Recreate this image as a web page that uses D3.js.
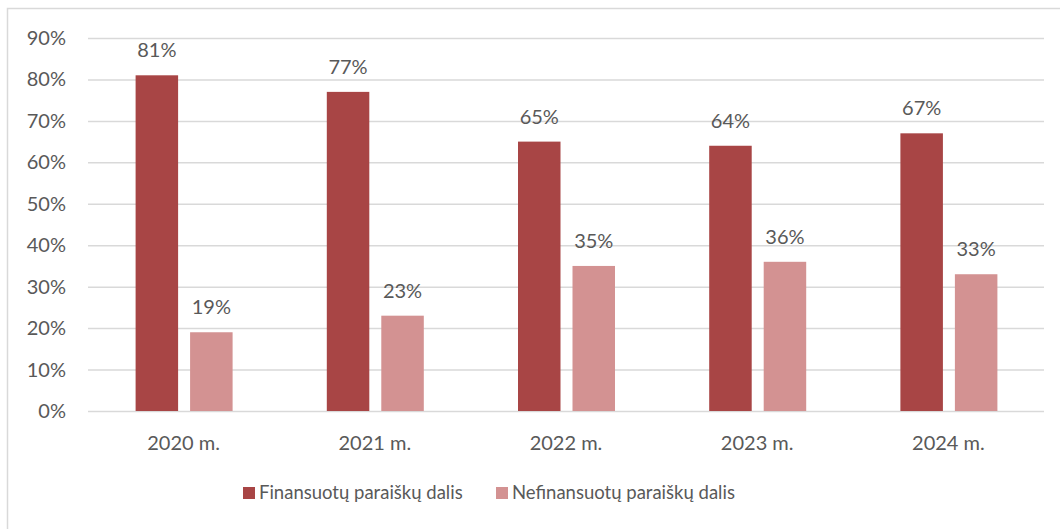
<!DOCTYPE html>
<html>
<head>
<meta charset="utf-8">
<script src="https://cdn.jsdelivr.net/npm/d3@7"></script>
<style>
  body { margin: 0; background: #fff; }
  text { font-family: Lato, "Open Sans", sans-serif; fill: #595959; }
</style>
</head>
<body>
<script>
var years = ["2020 m.", "2021 m.", "2022 m.", "2023 m.", "2024 m."];
var financed = [81, 77, 65, 64, 67];
var notFinanced = [19, 23, 35, 36, 33];
var seriesNames = ["Finansuotų paraiškų dalis", "Nefinansuotų paraiškų dalis"];
var colors = ["#A84545", "#D39292"];
var yTicks = [0, 10, 20, 30, 40, 50, 60, 70, 80, 90];

var width = 1060, height = 529;
var svg = d3.select("body").append("svg")
    .attr("width", width)
    .attr("height", height);

// frame
svg.append("rect")
    .attr("x", 7.5).attr("y", 8.5)
    .attr("width", 1070).attr("height", 540)
    .attr("fill", "none")
    .attr("stroke", "#d9d9d9")
    .attr("stroke-width", 1.5);

var x = d3.scaleBand().domain(years).range([88, 1044]);
var y = d3.scaleLinear().domain([0, 90]).range([411, 38]);

// gridlines
svg.selectAll("line.grid")
    .data(yTicks)
    .enter().append("line")
    .attr("class", "grid")
    .attr("x1", 88).attr("x2", 1044)
    .attr("y1", function(d) { return y(d) + 0.5; })
    .attr("y2", function(d) { return y(d) + 0.5; })
    .attr("stroke", "#d9d9d9")
    .attr("stroke-width", 1.5);

// y tick labels
svg.selectAll("text.ytick")
    .data(yTicks)
    .enter().append("text")
    .attr("class", "ytick")
    .attr("x", 66)
    .attr("y", function(d) { return y(d); })
    .attr("dy", "0.35em")
    .attr("text-anchor", "end")
    .style("font-size", "20px")
    .text(function(d) { return d + "%"; });

// x labels
svg.selectAll("text.xtick")
    .data(years)
    .enter().append("text")
    .attr("class", "xtick")
    .attr("x", function(d) { return x(d) + x.bandwidth() / 2; })
    .attr("y", 443)
    .attr("dy", "0.35em")
    .attr("text-anchor", "middle")
    .style("font-size", "20px")
    .text(function(d) { return d; });

var sub = d3.scaleBand().domain([0, 1]).range([-48, 49]).paddingInner(0.22);

var series = [financed, notFinanced];
series.forEach(function(vals, i) {
  var g = svg.append("g");
  g.selectAll("rect")
    .data(vals)
    .enter().append("rect")
    .attr("x", function(d, j) { return x(years[j]) + x.bandwidth() / 2 + sub(i); })
    .attr("y", function(d) { return y(d); })
    .attr("width", sub.bandwidth())
    .attr("height", function(d) { return y(0) - y(d); })
    .attr("fill", colors[i]);
  g.selectAll("text")
    .data(vals)
    .enter().append("text")
    .attr("x", function(d, j) { return x(years[j]) + x.bandwidth() / 2 + sub(i) + sub.bandwidth() / 2; })
    .attr("y", function(d) { return y(d) - 18; })
    .attr("text-anchor", "middle")
    .style("font-size", "20px")
    .text(function(d) { return d + "%"; });
});

// legend
var legendX = [243, 496];
seriesNames.forEach(function(name, i) {
  svg.append("rect")
    .attr("x", legendX[i]).attr("y", 487)
    .attr("width", 12).attr("height", 12)
    .attr("fill", colors[i]);
  svg.append("text")
    .attr("x", legendX[i] + 16).attr("y", 493)
    .attr("dy", "0.35em")
    .style("font-size", "18.5px")
    .text(name);
});
</script>
</body>
</html>
